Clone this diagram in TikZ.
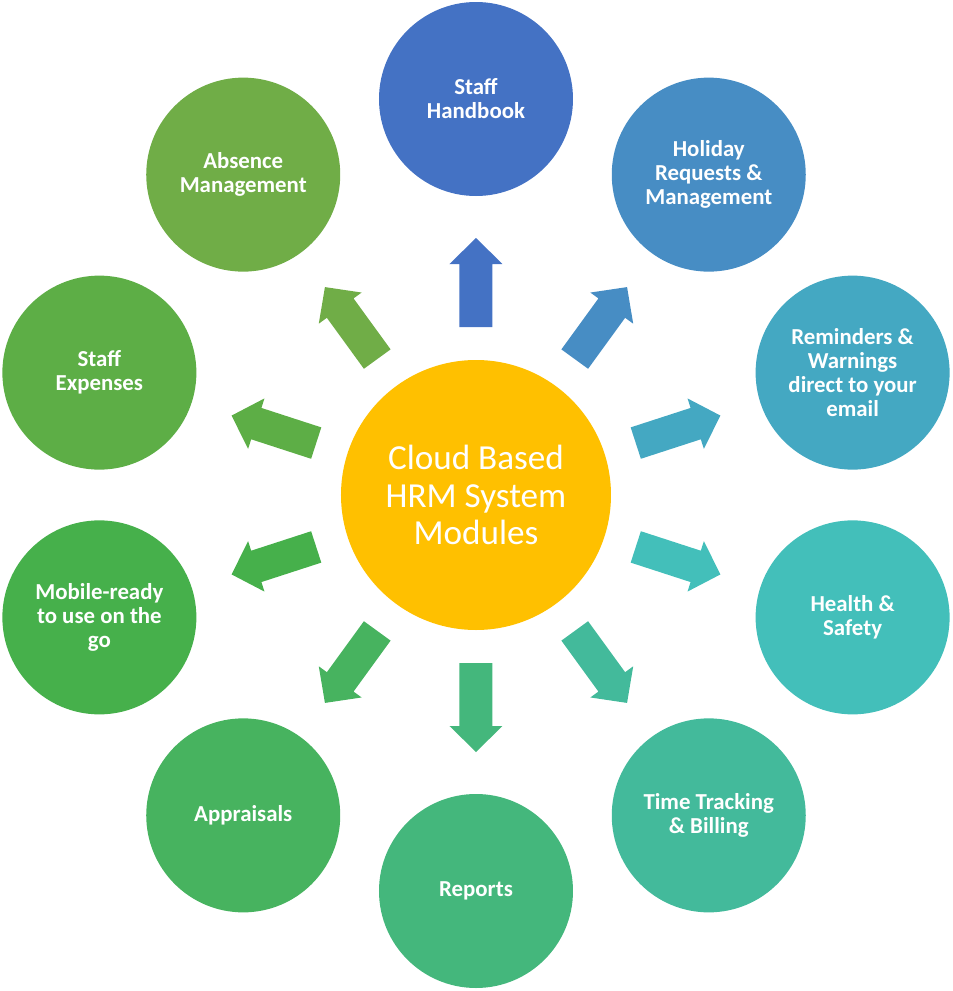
\documentclass[tikz,border=0pt]{standalone}
\usepackage{fontspec}
\setmainfont{Carlito}
\usepackage{xcolor}
\usepackage{tikz}
\usetikzlibrary{calc}
\definecolor{hrmHub}{HTML}{FFC000}
\definecolor{hrmHandbook}{HTML}{4472C4}
\definecolor{hrmHoliday}{HTML}{478DC4}
\definecolor{hrmReminder}{HTML}{44A8C2}
\definecolor{hrmHealth}{HTML}{43BFBA}
\definecolor{hrmTime}{HTML}{43BA9B}
\definecolor{hrmReports}{HTML}{44B77C}
\definecolor{hrmAppraisal}{HTML}{47B35F}
\definecolor{hrmMobile}{HTML}{46B04B}
\definecolor{hrmExpenses}{HTML}{5DAE46}
\definecolor{hrmAbsence}{HTML}{70AD47}
\tikzset{
	module/.style={circle,minimum size=3.88cm,inner sep=0pt,align=center,
		text=white,font=\fontsize{13}{13.6}\selectfont\bfseries},
	hubnode/.style={circle,minimum size=5.4cm,inner sep=0pt,align=center,
		fill=hrmHub,text=white,font=\fontsize{20}{21.3}\selectfont}
}
\def\hrmarrow#1#2{
	\fill[#2,shift={(hub.center)},rotate=#1]
		(3.36,-0.33)--(4.62,-0.33)--(4.62,-0.53)--(5.14,0)
		--(4.62,0.53)--(4.62,0.33)--(3.36,0.33)--cycle;}

\begin{document}
\begin{tikzpicture}
	\useasboundingbox (-9.52,-9.92) rectangle (9.52,9.90);
	\node[hubnode] (hub) at (0,0) {Cloud Based\\HRM System\\Modules};
	\node[module,fill=hrmHandbook] (handbook) at (90:7.92) {Staff\\Handbook};
	\node[module,fill=hrmHoliday] (holiday) at (54:7.92) {Holiday\\Requests \&\\Management};
	\node[module,fill=hrmReminder] (reminders) at (18:7.92) {Reminders \&\\Warnings\\direct to your\\email};
	\node[module,fill=hrmHealth] (health) at (-18:7.92) {Health \&\\Safety};
	\node[module,fill=hrmTime] (timetrack) at (-54:7.92) {Time Tracking\\\& Billing};
	\node[module,fill=hrmReports] (reports) at (-90:7.92) {Reports};
	\node[module,fill=hrmAppraisal] (appraisals) at (-126:7.92) {Appraisals};
	\node[module,fill=hrmMobile] (mobile) at (-162:7.92) {Mobile-ready\\to use on the\\go};
	\node[module,fill=hrmExpenses] (expenses) at (162:7.92) {Staff\\Expenses};
	\node[module,fill=hrmAbsence] (absence) at (126:7.92) {Absence\\Management};
	% block arrows out of the hub
	\hrmarrow{90}{hrmHandbook}
	\hrmarrow{54}{hrmHoliday}
	\hrmarrow{18}{hrmReminder}
	\hrmarrow{-18}{hrmHealth}
	\hrmarrow{-54}{hrmTime}
	\hrmarrow{-90}{hrmReports}
	\hrmarrow{-126}{hrmAppraisal}
	\hrmarrow{-162}{hrmMobile}
	\hrmarrow{162}{hrmExpenses}
	\hrmarrow{126}{hrmAbsence}
\end{tikzpicture}
\end{document}
